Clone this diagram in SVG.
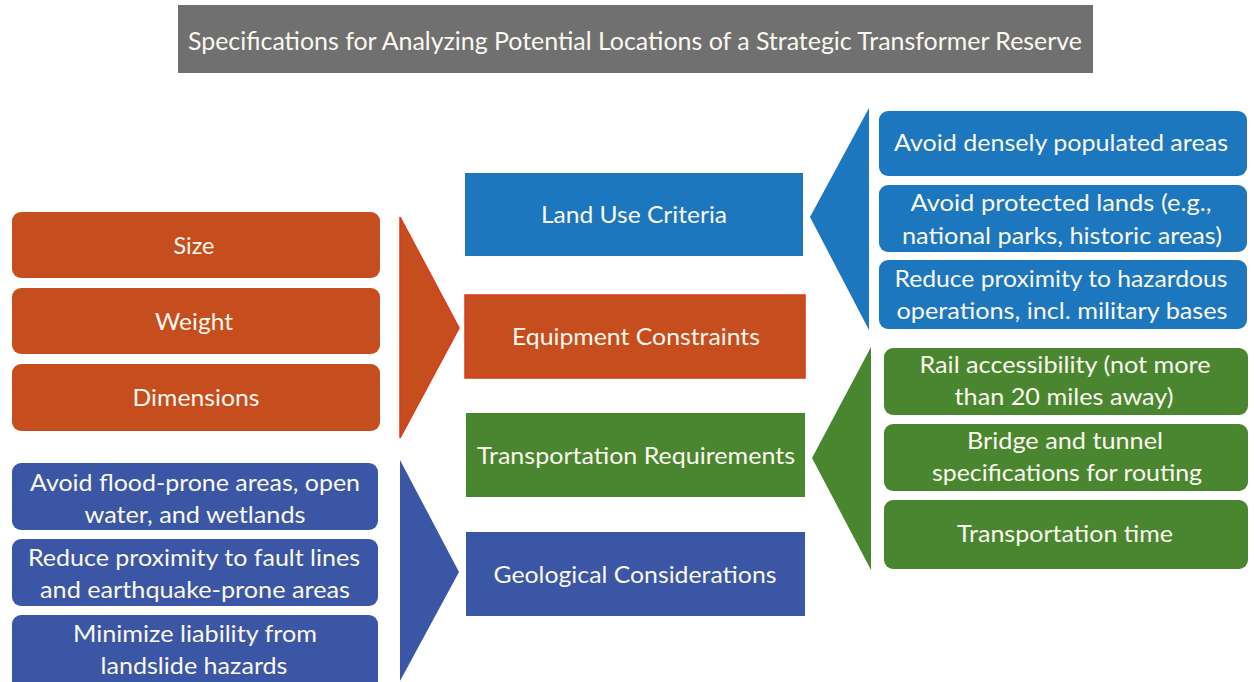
<svg xmlns="http://www.w3.org/2000/svg" width="1254" height="682" viewBox="0 0 1254 682">
  <style>
    text { font-family: Lato, "Open Sans", "Liberation Sans", sans-serif; fill: #fbf8ef; text-anchor: middle; font-size: 23px; }
    .title { font-size: 25px; }
    .orange { fill: #c64d1d; }
    .orange-edge { stroke: #dc3a1c; stroke-width: 1.5; }
    .navy { fill: #3a56a5; }
    .blue { fill: #1c77bf; }
    .green { fill: #4a8630; }
    .gray { fill: #707070; }
  </style>

  <rect width="1254" height="682" fill="#ffffff"/>

  <!-- Title bar -->
  <g id="title">
    <rect class="gray" x="178" y="5" width="915" height="68"/>
    <text class="title" x="635" y="50" textLength="894" lengthAdjust="spacingAndGlyphs">Specifications for Analyzing Potential Locations of a Strategic Transformer Reserve</text>
  </g>

  <!-- Chevron connectors -->
  <g id="connectors">
    <polygon class="orange orange-edge" points="400,217 459,328 400,438"/>
    <polygon class="navy" points="400,460 459,572 400,681"/>
    <polygon class="blue" points="869,108 810,217 869,330"/>
    <polygon class="green" points="871,347 812,458 871,570"/>
  </g>

  <!-- Equipment attributes -->
  <g id="size">
    <rect class="orange" x="12" y="212" width="368" height="66" rx="9"/>
    <text x="194" y="254" textLength="41" lengthAdjust="spacingAndGlyphs">Size</text>
  </g>
  <g id="weight">
    <rect class="orange" x="12" y="288" width="368" height="66" rx="9"/>
    <text x="194" y="330" textLength="78" lengthAdjust="spacingAndGlyphs">Weight</text>
  </g>
  <g id="dimensions">
    <rect class="orange" x="12" y="364" width="368" height="67" rx="9"/>
    <text x="196" y="406" textLength="127" lengthAdjust="spacingAndGlyphs">Dimensions</text>
  </g>

  <!-- Geological factors -->
  <g id="flood">
    <rect class="navy" x="12" y="463" width="366" height="67" rx="9"/>
    <text x="195" y="491" textLength="330" lengthAdjust="spacingAndGlyphs">Avoid flood-prone areas, open</text>
    <text x="195" y="523" textLength="221" lengthAdjust="spacingAndGlyphs">water, and wetlands</text>
  </g>
  <g id="fault">
    <rect class="navy" x="12" y="539" width="366" height="67" rx="9"/>
    <text x="194" y="566" textLength="332" lengthAdjust="spacingAndGlyphs">Reduce proximity to fault lines</text>
    <text x="195" y="598" textLength="310" lengthAdjust="spacingAndGlyphs">and earthquake-prone areas</text>
  </g>
  <g id="landslide">
    <rect class="navy" x="12" y="615" width="366" height="75" rx="9"/>
    <text x="195" y="642" textLength="244" lengthAdjust="spacingAndGlyphs">Minimize liability from</text>
    <text x="194" y="674" textLength="187" lengthAdjust="spacingAndGlyphs">landslide hazards</text>
  </g>

  <!-- Central categories -->
  <g id="land-use">
    <rect class="blue" x="465" y="173" width="338" height="83"/>
    <text x="634" y="223" textLength="186" lengthAdjust="spacingAndGlyphs">Land Use Criteria</text>
  </g>
  <g id="equipment">
    <rect class="orange orange-edge" x="465" y="295" width="340" height="83"/>
    <text x="636" y="345" textLength="248" lengthAdjust="spacingAndGlyphs">Equipment Constraints</text>
  </g>
  <g id="transportation">
    <rect class="green" x="466" y="413" width="339" height="84"/>
    <text x="636" y="464" textLength="318" lengthAdjust="spacingAndGlyphs">Transportation Requirements</text>
  </g>
  <g id="geological">
    <rect class="navy" x="466" y="532" width="339" height="84"/>
    <text x="635" y="583" textLength="283" lengthAdjust="spacingAndGlyphs">Geological Considerations</text>
  </g>

  <!-- Land use factors -->
  <g id="populated">
    <rect class="blue" x="879" y="111" width="368" height="65" rx="9"/>
    <text x="1061" y="151" textLength="334" lengthAdjust="spacingAndGlyphs">Avoid densely populated areas</text>
  </g>
  <g id="protected">
    <rect class="blue" x="879" y="185" width="368" height="67" rx="9"/>
    <text x="1061" y="211" textLength="301" lengthAdjust="spacingAndGlyphs">Avoid protected lands (e.g.,</text>
    <text x="1062" y="244" textLength="320" lengthAdjust="spacingAndGlyphs">national parks, historic areas)</text>
  </g>
  <g id="hazardous">
    <rect class="blue" x="879" y="260" width="368" height="69" rx="9"/>
    <text x="1061" y="287" textLength="333" lengthAdjust="spacingAndGlyphs">Reduce proximity to hazardous</text>
    <text x="1062" y="319" textLength="331" lengthAdjust="spacingAndGlyphs">operations, incl. military bases</text>
  </g>

  <!-- Transportation factors -->
  <g id="rail">
    <rect class="green" x="884" y="348" width="364" height="67" rx="9"/>
    <text x="1065" y="373" textLength="291" lengthAdjust="spacingAndGlyphs">Rail accessibility (not more</text>
    <text x="1064" y="405" textLength="219" lengthAdjust="spacingAndGlyphs">than 20 miles away)</text>
  </g>
  <g id="bridge">
    <rect class="green" x="884" y="424" width="364" height="67" rx="9"/>
    <text x="1065" y="449" textLength="196" lengthAdjust="spacingAndGlyphs">Bridge and tunnel</text>
    <text x="1067" y="481" textLength="270" lengthAdjust="spacingAndGlyphs">specifications for routing</text>
  </g>
  <g id="transit-time">
    <rect class="green" x="884" y="500" width="364" height="69" rx="9"/>
    <text x="1065" y="542" textLength="216" lengthAdjust="spacingAndGlyphs">Transportation time</text>
  </g>
</svg>
